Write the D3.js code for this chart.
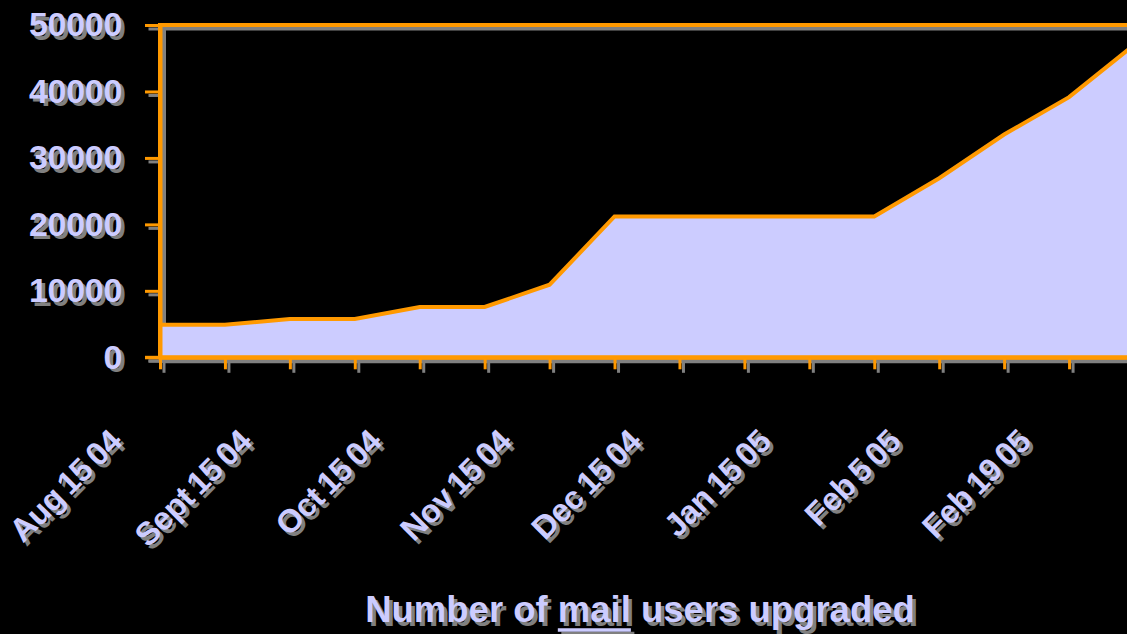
<!DOCTYPE html>
<html>
<head>
<meta charset="utf-8">
<script src="https://cdn.jsdelivr.net/npm/d3@7"></script>
<style>
  html, body { margin: 0; padding: 0; background: #000; }
  svg { display: block; }
  text { font-family: "Liberation Sans", Arial, sans-serif; font-weight: bold; }
</style>
</head>
<body>
<svg id="chart" width="1127" height="634"></svg>
<script>
// ---- data ----
const tickLabels = ["Aug 15 04", "", "Sept 15 04", "", "Oct 15 04", "", "Nov 15 04", "",
                    "Dec 15 04", "", "Jan 15 05", "", "Feb 5 05", "", "Feb 19 05", ""];
const values = [4900, 4900, 5760, 5760, 7570, 7570, 10920, 21190,
                21190, 21190, 21190, 21190, 26950, 33520, 39150, 47000];
const yTicks = [0, 10000, 20000, 30000, 40000, 50000];
const chartTitle = "Number of mail users upgraded";
const underlined = "mail";

// ---- styles ----
const BG = "#000000", ORANGE = "#FF9900", LAV = "#CCCCFF", SHADOW = "#808080";
const plotLeft = 160, plotRight = 1134, plotTop = 25, plotBottom = 357.3;
const SH = 3.5;
const FONT = "'Liberation Sans', Arial, sans-serif";

const svg = d3.select("#chart");
svg.append("rect").attr("width", 1127).attr("height", 634).attr("fill", BG);

const idx = tickLabels.map((d, i) => i);
const x = d3.scalePoint().domain(idx).range([plotLeft, plotRight]);
const y = d3.scaleLinear().domain([0, 50000]).range([plotBottom, plotTop]);

function drawAxes(g, lineColor, textColor) {
  g.append("rect")
    .attr("x", x(0)).attr("y", y(50000))
    .attr("width", x(idx[idx.length - 1]) - x(0))
    .attr("height", y(0) - y(50000))
    .attr("fill", "none").attr("stroke", lineColor).attr("stroke-width", 4);

  const ya = g.append("g").attr("transform", `translate(${x(0)},0)`)
    .call(d3.axisLeft(y).tickValues(yTicks).tickFormat(d3.format("d"))
      .tickSize(15).tickPadding(23).tickSizeOuter(0));
  ya.select(".domain").attr("stroke", lineColor).attr("stroke-width", 4);
  ya.selectAll(".tick line").attr("stroke", lineColor).attr("stroke-width", 3);
  ya.selectAll(".tick text").attr("fill", textColor).style("font-size", "34px")
    .style("font-family", FONT).style("font-weight", "bold")
    .style("letter-spacing", "-0.3px");

  const xa = g.append("g").attr("transform", `translate(0,${y(0)})`)
    .call(d3.axisBottom(x).tickFormat(i => tickLabels[i]).tickSize(12).tickSizeOuter(0));
  xa.select(".domain").attr("stroke", lineColor).attr("stroke-width", 4);
  xa.selectAll(".tick line").attr("stroke", lineColor).attr("stroke-width", 3);
  xa.selectAll(".tick text")
    .attr("fill", textColor).style("font-size", "32.5px")
    .style("font-family", FONT).style("font-weight", "bold")
    .style("letter-spacing", "-0.6px").style("word-spacing", "-3px")
    .attr("x", 0).attr("y", 0).attr("dy", 0)
    .attr("text-anchor", "end")
    .attr("transform", "translate(-37,86) rotate(-45)");
  g.append("line").attr("x1", x(0) - 15).attr("x2", x(0)).attr("y1", y(0)).attr("y2", y(0))
    .attr("stroke", lineColor).attr("stroke-width", 3);

  const t = g.append("text").attr("x", 640).attr("y", 622)
    .attr("text-anchor", "middle").attr("fill", textColor)
    .style("font-size", "36.5px").text(chartTitle);
  const node = t.node();
  const s = chartTitle.indexOf(underlined);
  const x1 = node.getStartPositionOfChar(s).x;
  const x2 = node.getEndPositionOfChar(s + underlined.length - 1).x;
  g.append("line").attr("x1", x1).attr("x2", x2).attr("y1", 630).attr("y2", 630)
    .attr("stroke", textColor).attr("stroke-width", 3.5);
}

const shadowG = svg.append("g").attr("transform", `translate(${SH},${SH})`);
drawAxes(shadowG, SHADOW, SHADOW);

const area = d3.area().x((d, i) => x(i)).y0(y(0)).y1(d => y(d));
const line = d3.line().x((d, i) => x(i)).y(d => y(d));
svg.append("path").datum(values).attr("d", area).attr("fill", LAV);
svg.append("path").datum(values).attr("d", line)
  .attr("fill", "none").attr("stroke", ORANGE).attr("stroke-width", 4)
  .attr("stroke-linejoin", "miter");

const mainG = svg.append("g");
drawAxes(mainG, ORANGE, LAV);
</script>
</body>
</html>
